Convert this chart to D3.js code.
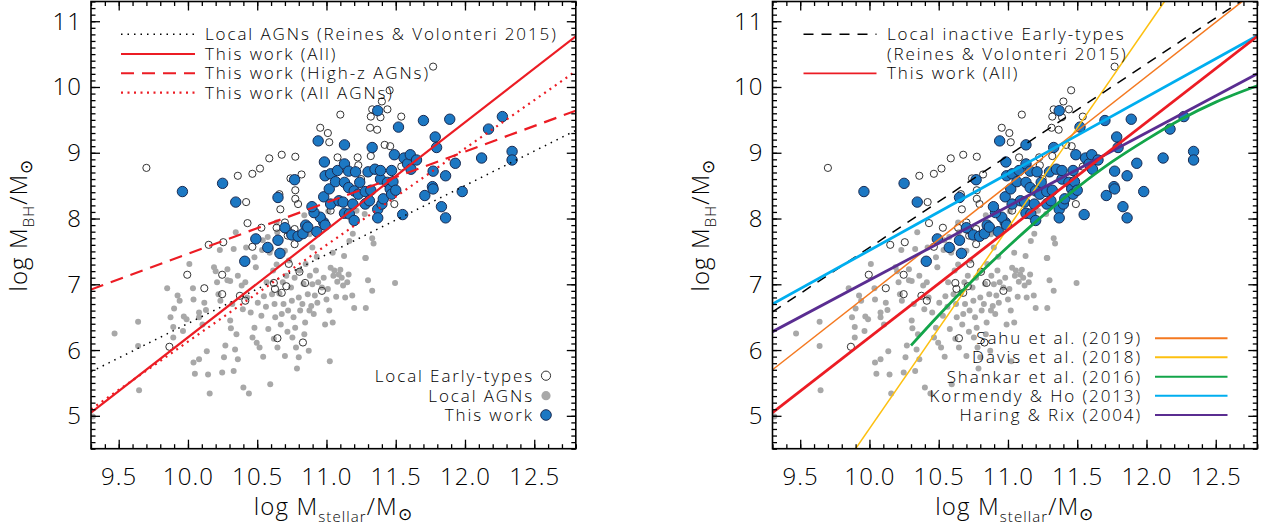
<!DOCTYPE html>
<html><head><meta charset="utf-8">
<script src="https://cdn.jsdelivr.net/npm/d3@7"></script>
<style>
html,body{margin:0;padding:0;background:#fff;}
svg text{font-family:"Open Sans","Liberation Sans",Arial,"DejaVu Sans",sans-serif;font-weight:300;letter-spacing:1.1px;fill:#000;}
svg text.leg{letter-spacing:1.9px;}
</style></head><body>
<svg id="c" width="1270" height="529"></svg>
<script>
const xTickValues=[9.5,10.0,10.5,11.0,11.5,12.0,12.5];
const xTickLabels=["9.5","10.0","10.5","11.0","11.5","12.0","12.5"];
const yTickValues=[5,6,7,8,9,10,11];
const yTickLabels=["5","6","7","8","9","10","11"];

const localAGNs=[[9.313,4.99],[9.47,6.25],[9.64,6.43],[9.64,6.06],[9.647,5.39],[9.85,6.94],[9.874,6.5],[9.894,6.35],[9.925,6.83],[9.94,6.75],[9.894,6.19],[9.964,6.29],[9.90,6.63],[9.97,6.51],[9.99,6.47],[10.01,7.31],[10.036,6.94],[10.04,6.77],[10.04,5.81],[10.05,5.64],[10.08,6.57],[10.08,6.5],[10.105,6.39],[10.118,6.72],[10.13,6.61],[10.08,5.86],[10.136,5.98],[10.145,5.63],[10.157,5.34],[10.188,7.26],[10.2,7.2],[10.21,7.03],[10.22,6.85],[10.234,6.75],[10.247,5.66],[10.26,5.89],[10.27,6.07],[10.285,7.23],[10.285,7.06],[10.305,7.05],[10.305,6.45],[10.31,6.33],[10.32,6.7],[10.33,5.68],[10.34,6.01],[10.35,6.24],[10.36,7.13],[10.36,5.86],[10.388,6.98],[10.396,6.62],[10.4,5.43],[10.414,7.03],[10.427,6.8],[10.44,5.34],[10.453,6.57],[10.466,6.19],[10.48,7.41],[10.48,6.34],[10.49,7.26],[10.496,6.11],[10.504,6.72],[10.517,6.04],[10.53,6.52],[10.543,5.9],[10.548,6.82],[10.563,6.66],[10.568,7.03],[10.58,6.32],[10.59,7.48],[10.594,5.48],[10.607,6.85],[10.615,7.21],[10.62,6.17],[10.625,6.7],[10.63,6.5],[10.64,7.3],[10.646,6.04],[10.66,6.86],[10.67,6.39],[10.677,6.55],[10.685,7.03],[10.69,6.7],[10.7,5.91],[10.71,7.13],[10.718,6.28],[10.723,6.6],[10.728,7.36],[10.744,6.95],[10.75,6.75],[10.754,6.19],[10.762,6.5],[10.77,7.1],[10.774,6.34],[10.78,6.04],[10.787,5.72],[10.8,5.89],[10.8,6.8],[10.805,7.21],[10.81,6.6],[10.826,6.7],[10.834,7.01],[10.84,6.24],[10.846,6.42],[10.85,7.31],[10.865,6.85],[10.872,5.99],[10.877,6.6],[10.88,7.13],[10.89,6.67],[10.898,7.0],[10.908,6.55],[10.916,6.83],[10.924,7.21],[10.93,7.42],[10.934,6.72],[10.94,7.03],[10.967,6.95],[10.98,7.1],[10.99,6.39],[11.0,6.77],[11.01,6.93],[11.02,6.6],[11.024,5.83],[11.03,7.25],[11.045,6.42],[11.05,7.13],[11.057,7.21],[11.07,6.81],[11.078,7.04],[11.088,7.15],[11.1,7.22],[11.11,7.1],[11.12,6.98],[11.127,7.43],[11.135,6.8],[11.15,7.03],[11.16,7.15],[11.186,6.83],[11.2,6.64],[11.284,7.4],[11.284,6.64],[11.3,7.06],[11.33,6.9],[11.495,7.02],[10.23,7.52],[10.33,7.535],[10.345,7.79],[10.42,7.56],[10.54,7.67],[10.576,7.72],[10.64,7.94],[10.645,7.79],[10.6,7.535],[10.84,8.05],[10.81,7.76],[10.84,7.76],[10.877,7.76],[10.898,7.56],[11.045,7.48],[11.165,7.66],[11.19,7.77],[11.217,8.12],[11.276,8.07],[11.33,7.7],[11.34,7.62],[11.28,7.4],[11.013,8.11],[10.535,7.52],[10.7,7.51]];

const localEarly=[[9.70,8.77],[10.36,8.65],[10.465,8.68],[10.52,8.76],[10.587,8.915],[10.677,8.97],[10.775,8.94],[10.74,8.61],[10.82,8.67],[10.775,8.43],[10.775,8.30],[10.795,8.22],[10.66,8.37],[10.667,8.14],[10.42,8.25],[10.43,7.93],[10.465,7.57],[10.15,7.60],[10.255,7.64],[10.53,7.86],[10.64,7.86],[10.70,7.94],[10.72,7.82],[10.72,7.74],[10.77,7.84],[10.77,7.61],[10.955,9.38],[11.01,9.30],[11.02,9.16],[11.10,9.58],[11.08,8.93],[11.225,8.93],[11.23,8.81],[11.32,8.95],[11.315,9.38],[11.366,9.35],[11.32,9.55],[11.33,9.66],[11.39,9.54],[11.40,9.78],[11.456,9.95],[11.44,9.66],[11.54,9.55],[11.42,9.12],[11.46,9.10],[11.54,8.79],[11.49,8.22],[11.77,10.31],[11.25,8.60],[11.28,8.25],[11.03,8.12],[9.995,7.145],[10.118,6.94],[10.247,7.145],[10.247,6.85],[10.375,6.825],[10.414,6.75],[9.866,6.05],[10.62,7.02],[10.628,6.93],[10.677,6.87],[10.71,6.97],[10.728,7.31],[10.805,7.19],[10.846,7.02],[10.967,6.90],[10.646,6.18],[10.83,6.115]];

const thisWork=[[9.96,8.41],[10.25,8.535],[10.345,8.25],[10.41,7.35],[10.49,7.69],[10.576,7.56],[10.664,7.47],[10.65,8.32],[10.65,7.67],[10.70,7.86],[10.75,7.75],[10.795,7.73],[10.83,7.77],[10.85,7.90],[10.865,7.87],[10.93,7.80],[10.98,7.94],[10.955,8.02],[10.91,8.09],[10.895,8.18],[10.77,8.59],[10.94,9.18],[10.985,8.86],[10.98,8.33],[10.99,8.65],[11.02,8.45],[11.03,8.68],[11.03,8.22],[11.065,8.56],[11.08,8.73],[11.09,8.27],[11.12,8.25],[11.13,9.12],[11.13,8.83],[11.13,8.55],[11.13,8.08],[11.16,8.72],[11.16,8.47],[11.165,8.07],[11.19,8.22],[11.20,8.42],[11.20,7.97],[11.21,8.71],[11.23,8.37],[11.24,8.55],[11.28,8.41],[11.28,8.22],[11.30,8.71],[11.31,8.27],[11.32,8.43],[11.33,9.08],[11.35,8.75],[11.37,9.64],[11.37,8.14],[11.37,8.01],[11.39,8.60],[11.39,8.73],[11.40,8.22],[11.41,8.30],[11.44,8.55],[11.46,8.45],[11.47,8.73],[11.47,8.37],[11.48,8.56],[11.49,8.97],[11.50,8.43],[11.52,9.39],[11.55,8.06],[11.56,8.92],[11.585,8.83],[11.605,8.97],[11.61,8.75],[11.65,8.89],[11.70,9.49],[11.71,8.35],[11.765,8.485],[11.77,8.45],[11.77,8.72],[11.785,9.24],[11.795,9.08],[11.83,8.18],[11.86,8.65],[11.86,8.01],[11.89,9.51],[11.93,8.84],[11.98,8.41],[12.12,8.92],[12.17,9.36],[12.27,9.55],[12.34,9.02],[12.34,8.89],[10.99,7.90]];

// scaling relations (endpoints / points)
const rvLocalAGN=[[9.3,5.67],[12.8,9.34]];
const thisWorkAll=[[9.3,5.05],[12.8,10.77]];
const thisWorkHighZ=[[9.3,6.92],[12.8,9.64]];
const thisWorkAllAGN=[[9.3,5.10],[12.8,10.24]];
const rvLocalEarly=[[9.3,6.58],[12.8,11.47]];
const kormendyHo=[[9.3,6.70],[12.8,10.78]];
const haringRix=[[9.3,6.28],[12.8,10.20]];
const sahu=[[9.3,5.70],[12.8,11.48]];
const davis=[[9.9,4.5],[12.13,11.3]];
const shankar=[[10.3,6.07],[10.5,6.53],[10.75,7.07],[11.0,7.57],[11.25,8.04],[11.5,8.47],[11.75,8.86],[12.0,9.20],[12.25,9.51],[12.5,9.77],[12.8,10.02]];

const leftLegendLabels=["Local AGNs (Reines & Volonteri 2015)","This work (All)","This work (High-z AGNs)","This work (All AGNs)"];
const symLegendLabels=["Local Early-types","Local AGNs","This work"];
const rightLegendLabels=["Local inactive Early-types","(Reines & Volonteri 2015)","This work (All)"];
const refLegendLabels=["Sahu et al. (2019)","Davis et al. (2018)","Shankar et al. (2016)","Kormendy & Ho (2013)","Haring & Rix (2004)"];

const C={red:"#ec1c24",cyan:"#00aeef",purple:"#5a2d91",green:"#13a54a",orange:"#f47920",yellow:"#fdc010",blue:"#1c78c3",blueEdge:"#1a2b52",gray:"#a8a8a8"};

const svg=d3.select("#c");
const TOP=1.5,BOT=448.7,PW=484.8;

function panel(left,id){
  const x=d3.scaleLinear().domain([9.3,12.8]).range([left,left+PW]);
  const y=d3.scaleLinear().domain([4.5,11.3]).range([BOT,TOP]);
  svg.append("clipPath").attr("id",id).append("rect").attr("x",left).attr("y",TOP).attr("width",PW).attr("height",BOT-TOP);
  const g=svg.append("g").attr("clip-path",`url(#${id})`);
  g.append("g").selectAll("circle").data(localAGNs).join("circle")
    .attr("cx",d=>x(d[0])).attr("cy",d=>y(d[1])).attr("r",3).attr("fill",C.gray);
  g.append("g").selectAll("circle").data(localEarly).join("circle")
    .attr("cx",d=>x(d[0])).attr("cy",d=>y(d[1])).attr("r",3.6).attr("fill","none").attr("stroke","#333").attr("stroke-width",1);
  g.append("g").selectAll("circle").data(thisWork).join("circle")
    .attr("cx",d=>x(d[0])).attr("cy",d=>y(d[1])).attr("r",5.2).attr("fill",C.blue).attr("stroke",C.blueEdge).attr("stroke-width",1);
  const ax=svg.append("g");
  const minX=d3.range(93,129).map(v=>v/10), minY=d3.range(45,114).map(v=>v/10);
  const strip=s=>s.call(a=>a.select(".domain").remove()).selectAll("line").attr("stroke","#000").attr("stroke-width",1.3);
  strip(ax.append("g").attr("transform",`translate(0,${BOT})`).call(d3.axisBottom(x).tickValues(xTickValues).tickSize(-9).tickFormat("")));
  strip(ax.append("g").attr("transform",`translate(0,${BOT})`).call(d3.axisBottom(x).tickValues(minX).tickSize(-4.5).tickFormat("")));
  strip(ax.append("g").attr("transform",`translate(0,${TOP})`).call(d3.axisTop(x).tickValues(xTickValues).tickSize(-9).tickFormat("")));
  strip(ax.append("g").attr("transform",`translate(0,${TOP})`).call(d3.axisTop(x).tickValues(minX).tickSize(-4.5).tickFormat("")));
  strip(ax.append("g").attr("transform",`translate(${left},0)`).call(d3.axisLeft(y).tickValues(yTickValues).tickSize(-9).tickFormat("")));
  strip(ax.append("g").attr("transform",`translate(${left},0)`).call(d3.axisLeft(y).tickValues(minY).tickSize(-4.5).tickFormat("")));
  strip(ax.append("g").attr("transform",`translate(${left+PW},0)`).call(d3.axisRight(y).tickValues(yTickValues).tickSize(-9).tickFormat("")));
  strip(ax.append("g").attr("transform",`translate(${left+PW},0)`).call(d3.axisRight(y).tickValues(minY).tickSize(-4.5).tickFormat("")));
  ax.selectAll("text").remove();
  svg.append("rect").attr("x",left).attr("y",TOP).attr("width",PW).attr("height",BOT-TOP).attr("fill","none").attr("stroke","#000").attr("stroke-width",1.6);
  svg.append("g").selectAll("text").data(xTickValues).join("text")
    .attr("x",d=>x(d)+0.5).attr("y",485).attr("text-anchor","middle").attr("font-size",24).text((d,i)=>xTickLabels[i]);
  svg.append("g").selectAll("text").data(yTickValues).join("text")
    .attr("x",left-9).attr("y",d=>y(d)+8.5).attr("text-anchor","end").attr("font-size",24).text((d,i)=>yTickLabels[i]);
  const xt=svg.append("text").attr("x",left+PW/2).attr("y",515).attr("text-anchor","middle").attr("font-size",24);
  xt.append("tspan").text("log M");
  xt.append("tspan").attr("font-size",15).attr("dy",7).text("stellar");
  xt.append("tspan").attr("dy",-7).text("/M");
  xt.append("tspan").attr("font-size",17).attr("dy",5).text("⊙");
  const yt=svg.append("text").attr("transform",`translate(${left-64},${(TOP+BOT)/2}) rotate(-90)`).attr("text-anchor","middle").attr("font-size",24);
  yt.append("tspan").text("log M");
  yt.append("tspan").attr("font-size",15).attr("dy",7).text("BH");
  yt.append("tspan").attr("dy",-7).text("/M");
  yt.append("tspan").attr("font-size",17).attr("dy",5).text("⊙");
  return {x,y,g,left};
}

function drawLine(p,data,color,width,dash,curve){
  const line=d3.line().x(d=>p.x(d[0])).y(d=>p.y(d[1]));
  if(curve) line.curve(d3.curveMonotoneX);
  const path=p.g.append("path").datum(data).attr("d",line).attr("fill","none").attr("stroke",color).attr("stroke-width",width);
  if(dash) path.attr("stroke-dasharray",dash);
}
function legendLine(x1,x2,yy,color,width,dash){
  const l=svg.append("line").attr("x1",x1).attr("x2",x2).attr("y1",yy).attr("y2",yy).attr("stroke",color).attr("stroke-width",width);
  if(dash) l.attr("stroke-dasharray",dash);
}

const L=panel(91,"clipL");
drawLine(L,rvLocalAGN,"#000",1.5,"1.5,5");
drawLine(L,thisWorkAllAGN,C.red,2.2,"2,4.5");
drawLine(L,thisWorkHighZ,C.red,2.2,"13,8");
drawLine(L,thisWorkAll,C.red,2.2);
const legRows=[34.3,54,73.3,92.7];
const legStyles=[["#000",1.5,"1.5,5"],[C.red,2,null],[C.red,2,"13,8"],[C.red,2.2,"2,4.5"]];
leftLegendLabels.forEach((t,i)=>{
  legendLine(L.left+30,L.left+104,legRows[i],...legStyles[i]);
  svg.append("text").attr("class","leg").attr("x",L.left+114).attr("y",legRows[i]+6).attr("font-size",17).text(t);
});
const symRows=[375.7,395.7,415];
symLegendLabels.forEach((t,i)=>{
  svg.append("text").attr("class","leg").attr("x",534).attr("y",symRows[i]+6).attr("text-anchor","end").attr("font-size",17).text(t);
  const c=svg.append("circle").attr("cx",546).attr("cy",symRows[i]);
  if(i===0) c.attr("r",4.6).attr("fill","none").attr("stroke","#333").attr("stroke-width",1);
  else if(i===1) c.attr("r",4.6).attr("fill",C.gray);
  else c.attr("r",5.3).attr("fill",C.blue).attr("stroke",C.blueEdge).attr("stroke-width",1);
});

const R=panel(772.5,"clipR");
drawLine(R,davis,C.yellow,1.5);
drawLine(R,sahu,C.orange,1.5);
drawLine(R,rvLocalEarly,"#000",1.5,"10,8");
drawLine(R,kormendyHo,C.cyan,2.8);
drawLine(R,haringRix,C.purple,2.8);
drawLine(R,shankar,C.green,2.8,null,true);
drawLine(R,thisWorkAll,C.red,2.8);
legendLine(R.left+31,R.left+104,34.3,"#000",1.5,"10,8");
legendLine(R.left+31,R.left+104,73.3,C.red,1.8);
rightLegendLabels.forEach((t,i)=>{
  svg.append("text").attr("class","leg").attr("x",R.left+114.5).attr("y",legRows[i]+6).attr("font-size",17).text(t);
});
const refRows=[338.3,357.3,376.7,395.7,415];
const refColors=[C.orange,C.yellow,C.green,C.cyan,C.purple];
refLegendLabels.forEach((t,i)=>{
  svg.append("text").attr("class","leg").attr("x",1142).attr("y",refRows[i]+6).attr("text-anchor","end").attr("font-size",17).text(t);
  legendLine(1155,1227.5,refRows[i],refColors[i],2);
});
</script></body></html>
